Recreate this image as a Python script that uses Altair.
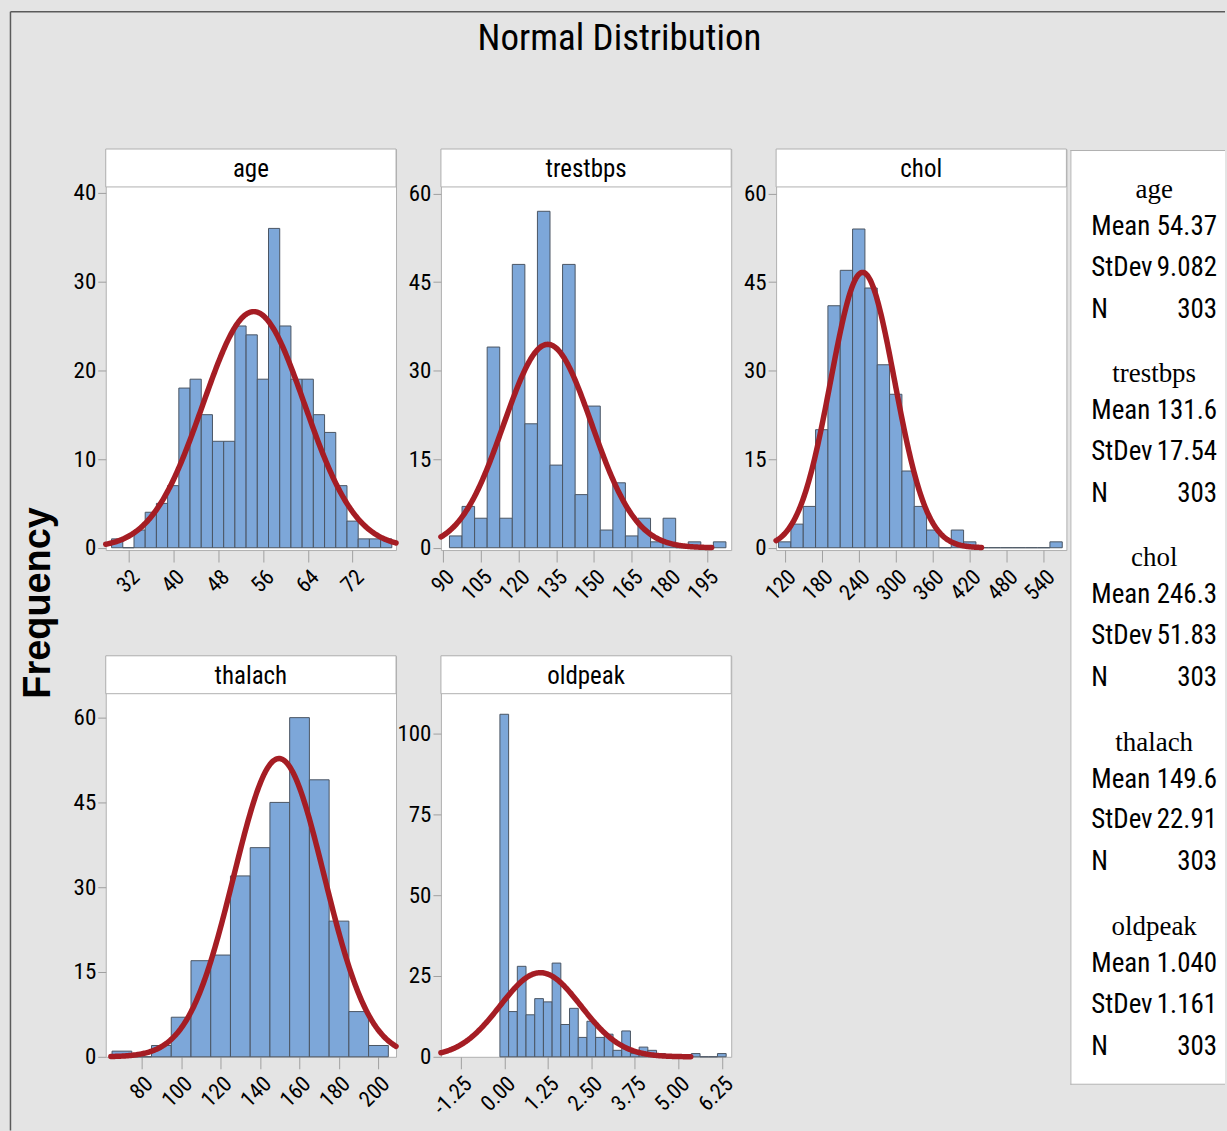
import altair as alt
import pandas as pd
import numpy as np

# ---------------- data ----------------
VARS = ["age", "trestbps", "chol", "thalach", "oldpeak"]
MEAN_TXT = ["54.37", "131.6", "246.3", "149.6", "1.040"]
STDEV_TXT = ["9.082", "17.54", "51.83", "22.91", "1.161"]
N_TXT = ["303", "303", "303", "303", "303"]
N_OBS = 303

BIN_WIDTH = [2, 5, 20, 10, 0.25]

age_mid = [30, 32, 34, 36, 38, 40, 42, 44, 46, 48, 50, 52, 54, 56, 58, 60, 62, 64, 66, 68, 70, 72, 74, 76, 78]
age_cnt = [1, 0, 2, 4, 5, 7, 18, 19, 15, 12, 12, 25, 24, 19, 36, 25, 19, 19, 15, 13, 7, 3, 1, 1, 1]

trestbps_mid = [95, 100, 105, 110, 115, 120, 125, 130, 135, 140, 145, 150, 155, 160, 165, 170, 175, 180, 185, 190, 195, 200]
trestbps_cnt = [2, 7, 5, 34, 5, 48, 21, 57, 14, 48, 9, 24, 3, 11, 2, 5, 1, 5, 0, 1, 0, 1]

chol_mid = [120, 140, 160, 180, 200, 220, 240, 260, 280, 300, 320, 340, 360, 380, 400, 420, 440, 460, 480, 500, 520, 540, 560]
chol_cnt = [1, 4, 7, 20, 41, 47, 54, 44, 31, 26, 13, 7, 3, 0, 3, 1, 0, 0, 0, 0, 0, 0, 1]

thalach_mid = [70, 80, 90, 100, 110, 120, 130, 140, 150, 160, 170, 180, 190, 200]
thalach_cnt = [1, 0, 2, 7, 17, 18, 32, 37, 45, 60, 49, 24, 8, 2]

oldpeak_mid = [0.0, 0.25, 0.5, 0.75, 1.0, 1.25, 1.5, 1.75, 2.0, 2.25, 2.5, 2.75, 3.0,
               3.25, 3.5, 3.75, 4.0, 4.25, 4.5, 4.75, 5.0, 5.25, 5.5, 5.75, 6.0, 6.25]
oldpeak_cnt = [106, 14, 28, 13, 18, 17, 29, 10, 15, 6, 11, 6, 7, 2, 8, 1, 3, 2, 1, 0, 0, 0, 1, 0, 0, 1]

MIDS = [age_mid, trestbps_mid, chol_mid, thalach_mid, oldpeak_mid]
CNTS = [age_cnt, trestbps_cnt, chol_cnt, thalach_cnt, oldpeak_cnt]

X_TICKS = [
    [32, 40, 48, 56, 64, 72],
    [90, 105, 120, 135, 150, 165, 180, 195],
    [120, 180, 240, 300, 360, 420, 480, 540],
    [80, 100, 120, 140, 160, 180, 200],
    [-1.25, 0.0, 1.25, 2.5, 3.75, 5.0, 6.25],
]
Y_TICKS = [
    [0, 10, 20, 30, 40],
    [0, 15, 30, 45, 60],
    [0, 15, 30, 45, 60],
    [0, 15, 30, 45, 60],
    [0, 25, 50, 75, 100],
]

# ---------------- layout / style ----------------
W, H, HEAD = 291, 402, 38
X_DOM = [[27.96, 79.75], [89.1, 204.6], [106.0, 576.7], [61.8, 208.9], [-1.82, 6.52]]
Y_DOM = [[-0.26, 44.95], [-0.39, 67.55], [-0.39, 67.55], [0.0, 70.94], [0.0, 124.1]]
X_FMT = ["d", "d", "d", "d", ".2f"]

BG = "#e4e4e4"
FRAME = "#b0b0b0"
TICK = "#a0a0a0"
BAR_FILL = "#7da7d9"
BAR_EDGE = "#4a5563"
CURVE = "#a51d24"
NARROW = "Liberation Sans Narrow, Arial Narrow, Roboto Condensed, Liberation Sans, sans-serif"
SANS = "Liberation Sans, Arial, DejaVu Sans, sans-serif"
SERIF = "Liberation Serif, Times New Roman, DejaVu Serif, serif"

ONE = pd.DataFrame({"k": [0]})


def txt(x, y, text, **kw):
    return alt.Chart(ONE).mark_text(text=text, **kw).encode(x=alt.value(x), y=alt.value(y))


def rule(x, y, x2=None, y2=None, color=FRAME, width=1.0):
    enc = dict(x=alt.value(x), y=alt.value(y))
    if x2 is not None:
        enc["x2"] = alt.value(x2)
    if y2 is not None:
        enc["y2"] = alt.value(y2)
    return alt.Chart(ONE).mark_rule(color=color, strokeWidth=width).encode(**enc)


def panel(i, extra=()):
    mids = np.array(MIDS[i], dtype=float)
    w = BIN_WIDTH[i]
    bars = pd.DataFrame({"x0": mids - w / 2, "x1": mids + w / 2, "cnt": CNTS[i]})

    mu = float(MEAN_TXT[i])
    sd = float(STDEV_TXT[i])
    lo = max(X_DOM[i][0], mu - 3.719 * sd)
    hi = min(X_DOM[i][1], mu + 3.719 * sd)
    xs = np.linspace(lo, hi, 300)
    ys = N_OBS * w * np.exp(-0.5 * ((xs - mu) / sd) ** 2) / (sd * np.sqrt(2 * np.pi))
    curve = pd.DataFrame({"x0": xs, "cnt": ys})

    lab_expr = "replace(datum.label, '\u2212', '-')"
    xax = alt.Axis(values=X_TICKS[i], format=X_FMT[i], labelExpr=lab_expr, labelAngle=-45,
                   labelAlign="right", labelBaseline="top", tickSize=12, tickColor=TICK,
                   domain=False, grid=False, labelFont=NARROW, labelFontSize=22,
                   labelColor="black", labelPadding=4, labelOverlap=False, labelFlush=False,
                   labelBound=False, title=None)
    yax = alt.Axis(values=Y_TICKS[i], tickSize=8, tickColor=TICK, domain=False, grid=False,
                   labelFont=NARROW, labelFontSize=23, labelColor="black", labelPadding=2,
                   labelOverlap=False, labelFlush=False, title=None)
    xs_ = alt.Scale(domain=X_DOM[i], nice=False, zero=False)
    ys_ = alt.Scale(domain=Y_DOM[i], nice=False, zero=False)

    layers = list(extra)
    layers += [
        alt.Chart(ONE).mark_rect(fill="white", stroke=FRAME, strokeWidth=1).encode(
            x=alt.value(0), x2=alt.value(W), y=alt.value(0), y2=alt.value(HEAD)),
        txt(W / 2, HEAD / 2 + 1, VARS[i], font=NARROW, fontSize=25, color="black",
            baseline="middle", align="center"),
        alt.Chart(bars).mark_bar(fill=BAR_FILL, stroke=BAR_EDGE, strokeWidth=1).encode(
            x=alt.X("x0:Q", scale=xs_, axis=xax),
            x2="x1:Q",
            y=alt.Y("cnt:Q", scale=ys_, axis=yax),
            y2=alt.datum(0),
        ),
        alt.Chart(curve).mark_line(color=CURVE, strokeWidth=5.5, strokeCap="round").encode(
            x=alt.X("x0:Q", scale=xs_, axis=xax),
            y=alt.Y("cnt:Q", scale=ys_, axis=yax),
        ),
    ]
    return alt.layer(*layers).properties(
        width=W, height=H,
        view=alt.ViewBackground(fill="white", stroke=FRAME, strokeWidth=1),
    )


# absolute positions of panel origins (top-left of header)
AGE_X, AGE_Y = 105, 147
CHOL_X, CHOL_Y = 777, 147

# extras in the first panel: page bounds, frame, title, y title
age_extra = [
    alt.Chart(ONE).mark_rect(fill=BG, opacity=0).encode(
        x=alt.value(-AGE_X), x2=alt.value(1227 - AGE_X),
        y=alt.value(-AGE_Y), y2=alt.value(1131 - AGE_Y)),
    rule(9.5 - AGE_X, 9.5 - AGE_Y, y2=1131 - AGE_Y, color="#5a5a5a", width=1.5),
    rule(9.5 - AGE_X, 9.5 - AGE_Y, x2=1227 - AGE_X, color="#5a5a5a", width=1.5),
    txt(620 - AGE_X, 37 - AGE_Y, "Normal Distribution", font=NARROW, fontSize=37,
        color="black", baseline="middle", align="center"),
    txt(38 - AGE_X, 602 - AGE_Y, "Frequency", font=SANS, fontSize=38, fontWeight="bold",
        color="black", baseline="middle", align="center", angle=270),
]

# legend box in the third panel
LX0, LY0, LY1 = 1072, 148, 1085
chol_extra = [
    alt.Chart(ONE).mark_rect(fill="white").encode(
        x=alt.value(LX0 - CHOL_X), x2=alt.value(1227 - CHOL_X),
        y=alt.value(LY0 - CHOL_Y), y2=alt.value(LY1 - CHOL_Y)),
    rule(LX0 + 0.5 - CHOL_X, LY0 - CHOL_Y, y2=LY1 - CHOL_Y),
    rule(LX0 - CHOL_X, LY0 + 0.5 - CHOL_Y, x2=1227 - CHOL_X),
    rule(LX0 - CHOL_X, LY1 - 0.5 - CHOL_Y, x2=1227 - CHOL_X),
]
for g in range(5):
    top = 188 + 184.7 * g
    chol_extra.append(txt(1156 - CHOL_X, top - CHOL_Y, VARS[g], font=SERIF, fontSize=27,
                          color="black", baseline="middle", align="center"))
    for lab, val, dy in (("Mean", MEAN_TXT[g], 37), ("StDev", STDEV_TXT[g], 78),
                         ("N", N_TXT[g], 120)):
        chol_extra.append(txt(1093 - CHOL_X, top + dy - CHOL_Y, lab, font=NARROW, fontSize=27,
                              color="black", baseline="middle", align="left"))
        chol_extra.append(txt(1219 - CHOL_X, top + dy - CHOL_Y, val, font=NARROW, fontSize=27,
                              color="black", baseline="middle", align="right"))

panels = [
    panel(0, age_extra),
    panel(1),
    panel(2, chol_extra),
    panel(3),
    panel(4),
]

chart = alt.concat(
    *panels, columns=3, spacing={"row": 106, "column": 45}, bounds="flush"
).properties(
    padding=0, background=BG
).configure_view(
    stroke=FRAME
)

chart.save("out.html", embed_options={"renderer": "svg", "actions": False})
